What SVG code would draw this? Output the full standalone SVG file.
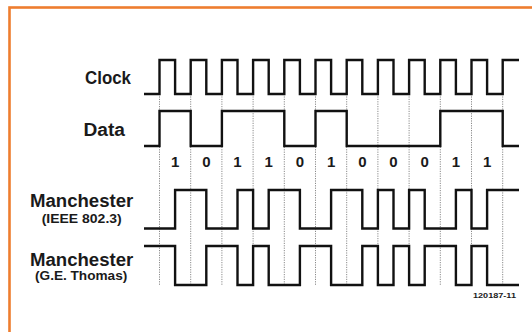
<svg xmlns="http://www.w3.org/2000/svg" width="532" height="332" viewBox="0 0 532 332">
<style>
.lbl{font-family:"Liberation Sans",Arial,sans-serif;font-weight:bold;fill:#1a1a1a}
.big{font-size:17.5px}
.sub{font-size:12px}
.dig{font-family:"Liberation Sans",Arial,sans-serif;font-weight:bold;font-size:15px;fill:#1a1a1a;text-anchor:middle}
.wave{fill:none;stroke:#111;stroke-width:2.4;stroke-linejoin:miter;stroke-linecap:butt}
.grid{stroke:#8a8a8a;stroke-width:1;stroke-dasharray:1.2 1.2}
</style>
<rect width="532" height="332" fill="#fff"/>
<rect x="9.5" y="7.5" width="600" height="400" fill="none" stroke="#ee7d2f" stroke-width="2.6"/>
<g id="gridlines">
<line class="grid" x1="159.5" y1="94" x2="159.5" y2="286"/>
<line class="grid" x1="190.7" y1="94" x2="190.7" y2="286"/>
<line class="grid" x1="221.9" y1="94" x2="221.9" y2="286"/>
<line class="grid" x1="253.1" y1="94" x2="253.1" y2="286"/>
<line class="grid" x1="284.3" y1="94" x2="284.3" y2="286"/>
<line class="grid" x1="315.5" y1="94" x2="315.5" y2="286"/>
<line class="grid" x1="346.7" y1="94" x2="346.7" y2="286"/>
<line class="grid" x1="377.9" y1="94" x2="377.9" y2="286"/>
<line class="grid" x1="409.1" y1="94" x2="409.1" y2="286"/>
<line class="grid" x1="440.3" y1="94" x2="440.3" y2="286"/>
<line class="grid" x1="471.5" y1="94" x2="471.5" y2="286"/>
<line class="grid" x1="502.7" y1="94" x2="502.7" y2="286"/>
</g>
<g id="clock">
<text class="lbl big" x="85" y="84.3" textLength="46" lengthAdjust="spacingAndGlyphs">Clock</text>
<path class="wave" d="M144 94 H159.5 V60 H175.1 V94 H190.7 V60 H206.3 V94 H221.9 V60 H237.5 V94 H253.1 V60 H268.7 V94 H284.3 V60 H299.9 V94 H315.5 V60 H331.1 V94 H346.7 V60 H362.3 V94 H377.9 V60 H393.5 V94 H409.1 V60 H424.7 V94 H440.3 V60 H455.9 V94 H471.5 V60 H487.1 V94 H502.7 V60 H519"/>
</g>
<g id="data">
<text class="lbl big" x="83.5" y="136" textLength="41.5" lengthAdjust="spacingAndGlyphs">Data</text>
<path class="wave" d="M144 146 H159.5 V111 H190.7 V146 H221.9 V111 H284.3 V146 H315.5 V111 H346.7 V146 H440.3 V111 H502.7 V146 H519"/>
</g>
<g id="bits">
<text class="dig" x="175.1" y="166.7">1</text>
<text class="dig" x="206.3" y="166.7">0</text>
<text class="dig" x="237.5" y="166.7">1</text>
<text class="dig" x="268.7" y="166.7">1</text>
<text class="dig" x="299.9" y="166.7">0</text>
<text class="dig" x="331.1" y="166.7">1</text>
<text class="dig" x="362.3" y="166.7">0</text>
<text class="dig" x="393.5" y="166.7">0</text>
<text class="dig" x="424.7" y="166.7">0</text>
<text class="dig" x="455.9" y="166.7">1</text>
<text class="dig" x="487.1" y="166.7">1</text>
</g>
<g id="manchester-ieee">
<text class="lbl big" x="30" y="206.5" textLength="103.3" lengthAdjust="spacingAndGlyphs">Manchester</text>
<text class="lbl sub" x="41.7" y="222.5" textLength="80" lengthAdjust="spacingAndGlyphs">(IEEE 802.3)</text>
<path class="wave" d="M144 228.5 H175.1 V190 H206.3 V228.5 H237.5 V190 H253.1 V228.5 H268.7 V190 H299.9 V228.5 H331.1 V190 H362.3 V228.5 H377.9 V190 H393.5 V228.5 H409.1 V190 H424.7 V228.5 H455.9 V190 H471.5 V228.5 H487.1 V190 H519"/>
</g>
<g id="manchester-thomas">
<text class="lbl big" x="30" y="265.5" textLength="103.3" lengthAdjust="spacingAndGlyphs">Manchester</text>
<text class="lbl sub" x="35" y="279.5" textLength="92.3" lengthAdjust="spacingAndGlyphs">(G.E. Thomas)</text>
<path class="wave" d="M144 246 H175.1 V285 H206.3 V246 H237.5 V285 H253.1 V246 H268.7 V285 H299.9 V246 H331.1 V285 H362.3 V246 H377.9 V285 H393.5 V246 H409.1 V285 H424.7 V246 H455.9 V285 H471.5 V246 H487.1 V285 H519"/>
</g>
<text class="lbl" x="473" y="298.3" font-size="8" textLength="43" lengthAdjust="spacingAndGlyphs">120187-11</text>
</svg>
